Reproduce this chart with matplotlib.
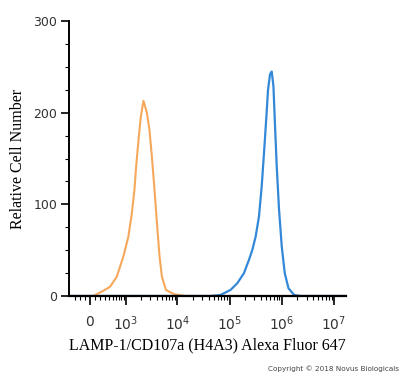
import numpy as np
import matplotlib
matplotlib.use("Agg")
from matplotlib import pyplot as plt
from matplotlib.ticker import FixedLocator, FixedFormatter

# fluorescence intensity (raw values) and cell counts
iso_x = [-450, 60, 230, 428, 628, 879, 1120, 1313, 1483, 1602, 1781, 1985, 2231,
         2601, 2920, 3251, 3651, 4063, 4565, 5075, 6065, 8500, 14000, 1.7e7]
iso_y = [0, 0, 4.7, 10, 21, 43, 65, 90, 116, 141, 170, 196, 213,
         200, 181, 152, 116, 80, 43, 21, 6.6, 2.2, 0, 0]

lamp_x = [-450, 43100, 67200, 104700, 140800, 188600, 235400, 273500, 316600, 366400,
          413100, 457500, 508500, 546000, 596700, 643000, 693600, 744600, 802600,
          888500, 1001000, 1143000, 1347000, 1727000, 2300000, 1.7e7]
lamp_y = [0, 0, 1.1, 6.6, 13.9, 24.8, 39.3, 50.3, 64.8, 86.7,
          119.5, 156, 196, 225, 242, 245, 229, 185, 141,
          94, 54, 24.8, 8.4, 1.1, 0, 0]

x_ticks = [0, 1e3, 1e4, 1e5, 1e6, 1e7]
x_labels = ["0", "$10^3$", "$10^4$", "$10^5$", "$10^6$", "$10^7$"]

W = 425.0


def fwd(x):
    return np.arcsinh(np.asarray(x, dtype=float) / W) / np.log(10)


def inv(y):
    return W * np.sinh(np.asarray(y, dtype=float) * np.log(10))


fig = plt.figure(figsize=(4.0, 3.78), dpi=100)
ax = fig.add_axes([0.1725, 0.217, 0.6925, 0.727])

ax.plot(iso_x, iso_y, color="#f5a85c", lw=1.5, solid_joinstyle="round")
ax.plot(lamp_x, lamp_y, color="#3388d8", lw=1.6, solid_joinstyle="round")

ax.set_xscale("function", functions=(fwd, inv))
ax.set_xlim(-450, 1.7e7)
ax.set_ylim(0, 300)

minor = [-300, -200, -100, 100, 200, 300, 400, 500, 600, 700, 800, 900]
for k in range(3, 7):
    minor += [m * 10 ** k for m in range(2, 10)]
ax.xaxis.set_major_locator(FixedLocator(x_ticks))
ax.xaxis.set_major_formatter(FixedFormatter(x_labels))
ax.xaxis.set_minor_locator(FixedLocator(minor))
ax.yaxis.set_major_locator(FixedLocator([0, 100, 200, 300]))
ax.yaxis.set_minor_locator(FixedLocator(list(range(25, 300, 25))))

for s in ["top", "right"]:
    ax.spines[s].set_visible(False)
ax.spines["left"].set_linewidth(1.4)
ax.spines["bottom"].set_linewidth(1.6)

ax.tick_params(axis="x", which="major", length=6.5, width=1.2, pad=7, labelsize=10)
ax.tick_params(axis="x", which="minor", length=3, width=0.8)
ax.tick_params(axis="y", which="major", length=5.5, width=1.2, pad=3, labelsize=9)
ax.tick_params(axis="y", which="minor", length=3, width=0.8)
for lab in ax.get_xticklabels() + ax.get_yticklabels():
    lab.set_color("#333333")

ax.set_xlabel("LAMP-1/CD107a (H4A3) Alexa Fluor 647", family="Liberation Serif",
              fontsize=11.5, labelpad=3)
ax.set_ylabel("Relative Cell Number", family="Liberation Serif", fontsize=11.5, labelpad=5)

fig.text(0.998, 0.015, "Copyright \u00a9 2018 Novus Biologicals", ha="right", va="bottom",
         fontsize=5.2, color="#444444")

plt.savefig("out.png", dpi=100)
